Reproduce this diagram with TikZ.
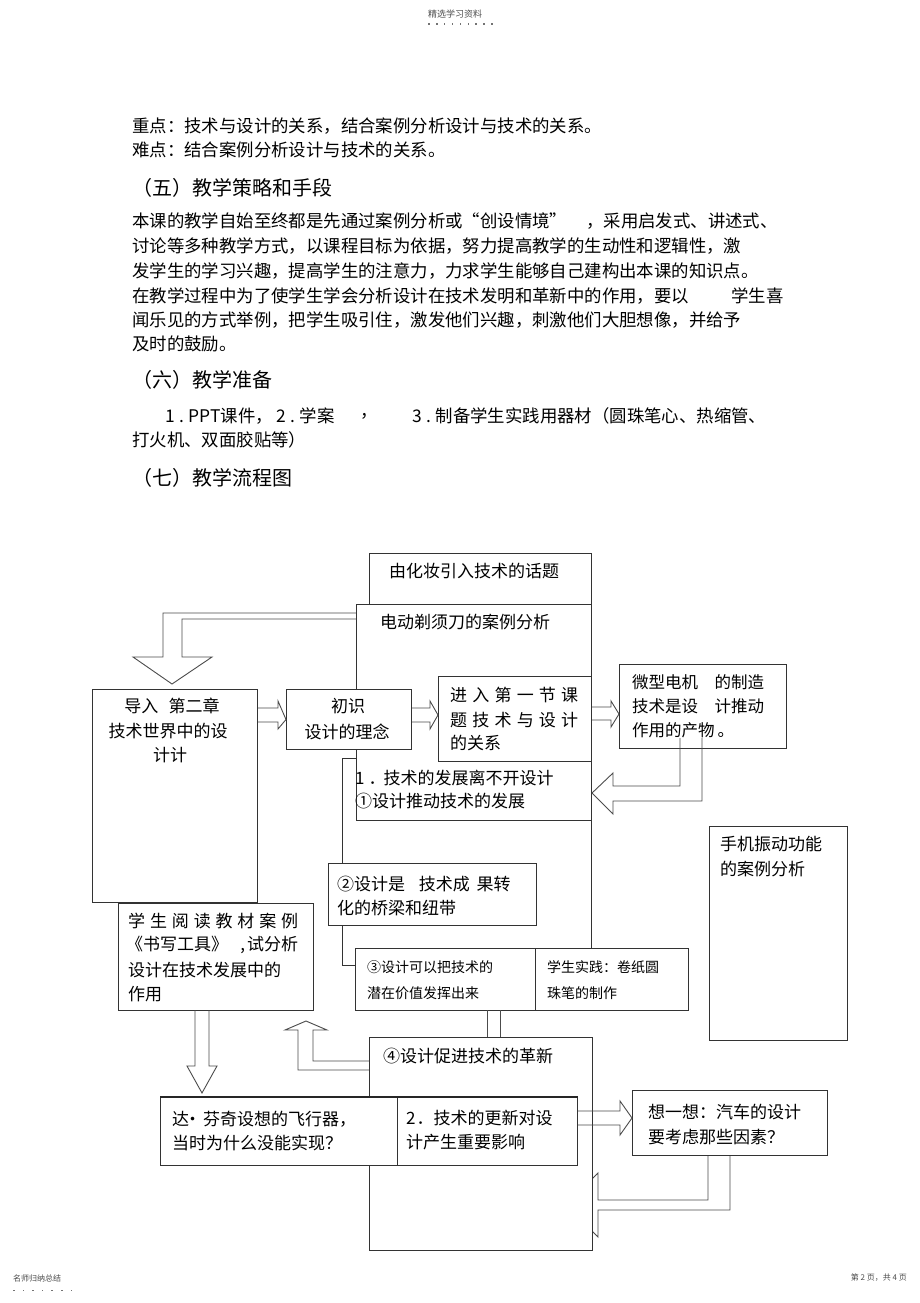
\documentclass[tikz,border=0pt]{standalone}
\usepackage{fontspec}
\newfontfamily\cjk{Noto Sans CJK SC}
\begin{document}
\begin{tikzpicture}[x=1pt,y=-1pt,
  box/.style={draw=black!80,line width=1pt,fill=white,inner sep=0pt,anchor=north west},
  tx/.style={anchor=west,inner sep=0pt,font=\cjk\fontsize{17.4}{20}\selectfont},
  fx/.style={anchor=west,inner sep=0pt,font=\cjk\fontsize{17}{20}\selectfont},
  gx/.style={anchor=west,inner sep=0pt,font=\cjk\fontsize{16.5}{20}\selectfont},
  sx/.style={anchor=west,inner sep=0pt,font=\cjk\fontsize{14}{16}\selectfont},
  hx/.style={anchor=west,inner sep=0pt,font=\cjk\fontsize{20}{24}\selectfont},
  tiny/.style={anchor=west,inner sep=0pt,text=black!70,font=\cjk\fontsize{8}{9}\selectfont},
  barrow/.style={draw=black!70,line width=0.9pt,line join=miter},
  dotm/.style={fill=black!55},
]
\fill[white] (0,0) rectangle (920,1303);
\useasboundingbox (0,0) rectangle (920,1303);

% header / footer
\node[tiny,font=\cjk\fontsize{9}{10}\selectfont] (hd) at (428,14) {精选学习资料};
\foreach \i in {0,...,8} \fill[dotm] (428+\i*7.9,23.5) rectangle (429.6+\i*7.9,24.7);
\node[tiny] (ft) at (13,1278) {名师归纳总结};
\foreach \i in {0,...,6} \fill[dotm] (13+\i*9.6,1289.5) rectangle (14.6+\i*9.6,1290.7);
\node[tiny,anchor=east] (pg) at (907,1278) {第 2 页，共 4 页};

% body text
\node[tx] (t1) at (132,126) {重点：技术与设计的关系，结合案例分析设计与技术的关系。};
\node[tx] (t2) at (132,150) {难点：结合案例分析设计与技术的关系。};
\node[hx] (h5) at (132,188) {（五）教学策略和手段};
\node[tx] (t3) at (132,221) {本课的教学自始至终都是先通过案例分析或“};
\node[tx] (t3b) at (480,221) {创设情境”};
\node[tx] (t3c) at (586,221) {，采用启发式、讲述式、};
\node[tx] (t4) at (132,246) {讨论等多种教学方式，以课程目标为依据，努力提高教学的生动性和逻辑性，激};
\node[tx] (t5) at (132,271) {发学生的学习兴趣，提高学生的注意力，力求学生能够自己建构出本课的知识点。};
\node[tx] (t6) at (132,296) {在教学过程中为了使学生学会分析设计在技术发明和革新中的作用，要以};
\node[tx] (t6b) at (731,296) {学生喜};
\node[tx] (t7) at (132,320) {闻乐见的方式举例，把学生吸引住，激发他们兴趣，刺激他们大胆想像，并给予};
\node[tx] (t8) at (132,344) {及时的鼓励。};
\node[hx] (h6) at (132,380) {（六）教学准备};
\node[tx] (t9) at (165,416) {1\hspace{5pt}.\hspace{4pt}PPT课件，};
\node[tx] (t9c) at (276,416) {2\hspace{5pt}.\hspace{4pt}学案};
\node[tx] (t9e) at (360,416) {，};
\node[tx] (t9f) at (412,416) {3\hspace{5pt}.\hspace{4pt}制备学生实践用器材（圆珠笔心、热缩管、};
\node[tx] (t10) at (132,440) {打火机、双面胶贴等）};
\node[hx] (h7) at (132,478) {（七）教学流程图};

% ---------- flow chart ----------
\draw[draw=black!80,line width=1pt] (342,758) rectangle (591,965);
\node[box,minimum width=235pt,minimum height=216pt] (B) at (356,604) {};
\node[box,minimum width=222pt,minimum height=51pt] (A) at (369,553) {};
\node[fx] (tA) at (389,571) {由化妆引入技术的话题};
\node[fx] (tB) at (380,622) {电动剃须刀的案例分析};
\node[fx] (tB1) at (355,778) {1\hspace{4pt}．\hspace{-2pt}技术的发展离不开设计};
\node[fx] (tB2) at (355,801) {①设计推动技术的发展};

% B -> C turning arrow
\draw[barrow] (B.west |- 0,613) -- (163,613) -- (163,657) -- (133,657) -- (172,684) -- (212,657) -- (182,657) -- (182,619) -- (B.west |- 0,619);

\node[box,minimum width=165pt,minimum height=213pt] (C) at (92,689) {};
\node[fx,anchor=center] (tC1) at (172,706) {导入\hspace{0.6em}第二章};
\node[fx,anchor=center] (tC2) at (168,731) {技术世界中的设};
\node[fx,anchor=center] (tC3) at (170,755) {计计};

\node[box,minimum width=125pt,minimum height=60pt] (E) at (286,689) {};
\node[fx,anchor=center] (tE1) at (348,706) {初识};
\node[fx,anchor=center] (tE2) at (347,732) {设计的理念};

\node[box,minimum width=153pt,minimum height=85pt] (F) at (438,676) {};
\node[fx] (tF1) at (450,695) {\makebox[128pt][s]{进\hfil 入\hfil 第\hfil 一\hfil 节\hfil 课}};
\node[fx] (tF2) at (450,720) {\makebox[128pt][s]{题\hfil 技\hfil 术\hfil 与\hfil 设\hfil 计}};
\node[fx] (tF3) at (450,743) {的关系};

\node[box,minimum width=167pt,minimum height=84pt] (G) at (619,664) {};
\node[gx] (tG1) at (632,682) {微型电机\hspace{1em}的制造};
\node[gx] (tG2) at (632,706) {技术是设\hspace{1em}计推动};
\node[gx] (tG3) at (632,730) {作用的产物\hspace{3pt}。};

% horizontal block arrows
\draw[barrow] (C.east |- 0,708) -- (278,708) -- (278,701) -- (E.west) -- (278,729) -- (278,722) -- (C.east |- 0,722);
\draw[barrow] (E.east |- 0,708) -- (430,708) -- (430,701) -- (F.west |- 0,715) -- (430,729) -- (430,722) -- (E.east |- 0,722);
\draw[barrow] (F.east |- 0,707) -- (611,707) -- (611,701) -- (G.west |- 0,714) -- (611,727) -- (611,720) -- (F.east |- 0,720);
% G -> box 1
\draw[barrow] (680,738) -- (680,786) -- (613,786) -- (613,773) -- (B.east |- 0,793) -- (613,814) -- (613,801) -- (702,801) -- (702,738);

\node[box,minimum width=138pt,minimum height=214pt] (P) at (709,826) {};
\node[fx] (tP1) at (720,844) {手机振动功能};
\node[fx] (tP2) at (720,869) {的案例分析};

\node[box,minimum width=208pt,minimum height=62pt] (K2) at (328,863) {};
\node[fx] (tK2a) at (337,884) {②设计是\hspace{0.8em}技术成\hspace{0.4em}果转};
\node[fx] (tK2b) at (337,908) {化的桥梁和纽带};

\node[box,minimum width=180pt,minimum height=62pt] (K3) at (355,948) {};
\node[sx] (tK3a) at (367,967) {③设计可以把技术的};
\node[sx] (tK3b) at (367,993) {潜在价值发挥出来};
\node[box,minimum width=153pt,minimum height=62pt] (SJ) at (535,948) {};
\node[sx] (tSJa) at (547,967) {学生实践：卷纸圆};
\node[sx] (tSJb) at (547,993) {珠笔的制作};

\node[box,minimum width=195pt,minimum height=107pt] (D) at (118,903) {};
\node[fx] (tD1) at (128,921) {\makebox[170pt][s]{学\hfil 生\hfil 阅\hfil 读\hfil 教\hfil 材\hfil 案\hfil 例}};
\node[fx] (tD2) at (126,945) {\makebox[172pt][s]{《书写工具》\hfil,\hspace{2pt}试分析}};
\node[fx] (tD3) at (128,970) {设计在技术发展中的};
\node[fx] (tD4) at (128,994) {作用};

% think -> 4 return arrow (under box 4)
\draw[barrow,fill=white] (708,1155) -- (708,1200) -- (598,1200) -- (598,1173) -- (566,1205) -- (598,1237) -- (598,1210) -- (730,1210) -- (730,1155);

\node[box,minimum width=223pt,minimum height=213pt] (K4) at (369,1037) {};
\node[fx] (tK4) at (383,1056) {④设计促进技术的革新};

% 3 -> 4 double line
\draw[barrow] (487,1010) -- (487,1037);
\draw[barrow] (500,1010) -- (500,1037);
% 4 -> D up arrow
\draw[barrow] (K4.west |- 0,1061) -- (313,1061) -- (313,1030) -- (327,1030) -- (306,1021) -- (285,1030) -- (298,1030) -- (298,1070) -- (K4.west |- 0,1070);
% D -> Da Vinci down arrow
\draw[barrow] (195,1010) -- (195,1066) -- (187,1066) -- (202,1093) -- (217,1066) -- (209,1066) -- (209,1010);

\node[box,minimum width=237pt,minimum height=68pt] (V) at (160,1097) {};
\node[box,minimum width=180pt,minimum height=68pt] (U) at (397,1097) {};
\draw[black!85,line width=2.2pt] (V.north west) -- (U.north east);
\node[fx] (tV1) at (172,1119) {达\hspace{-5pt}·\hspace{2pt}芬奇设想的飞行器，};
\node[fx] (tV2) at (172,1143) {当时为什么没能实现？};
\node[fx] (tU1) at (406,1118) {2\hspace{1pt}．技术的更新对设};
\node[fx] (tU2) at (406,1142) {计产生重要影响};

\node[box,minimum width=195pt,minimum height=65pt] (T) at (632,1090) {};
\node[fx] (tT1) at (648,1112) {想一想：汽车的设计};
\node[fx] (tT2) at (648,1137) {要考虑那些因素？};
\draw[barrow] (U.east |- 0,1111) -- (620,1111) -- (620,1101) -- (T.west |- 0,1118) -- (620,1135) -- (620,1125) -- (U.east |- 0,1125);
\end{tikzpicture}
\end{document}
